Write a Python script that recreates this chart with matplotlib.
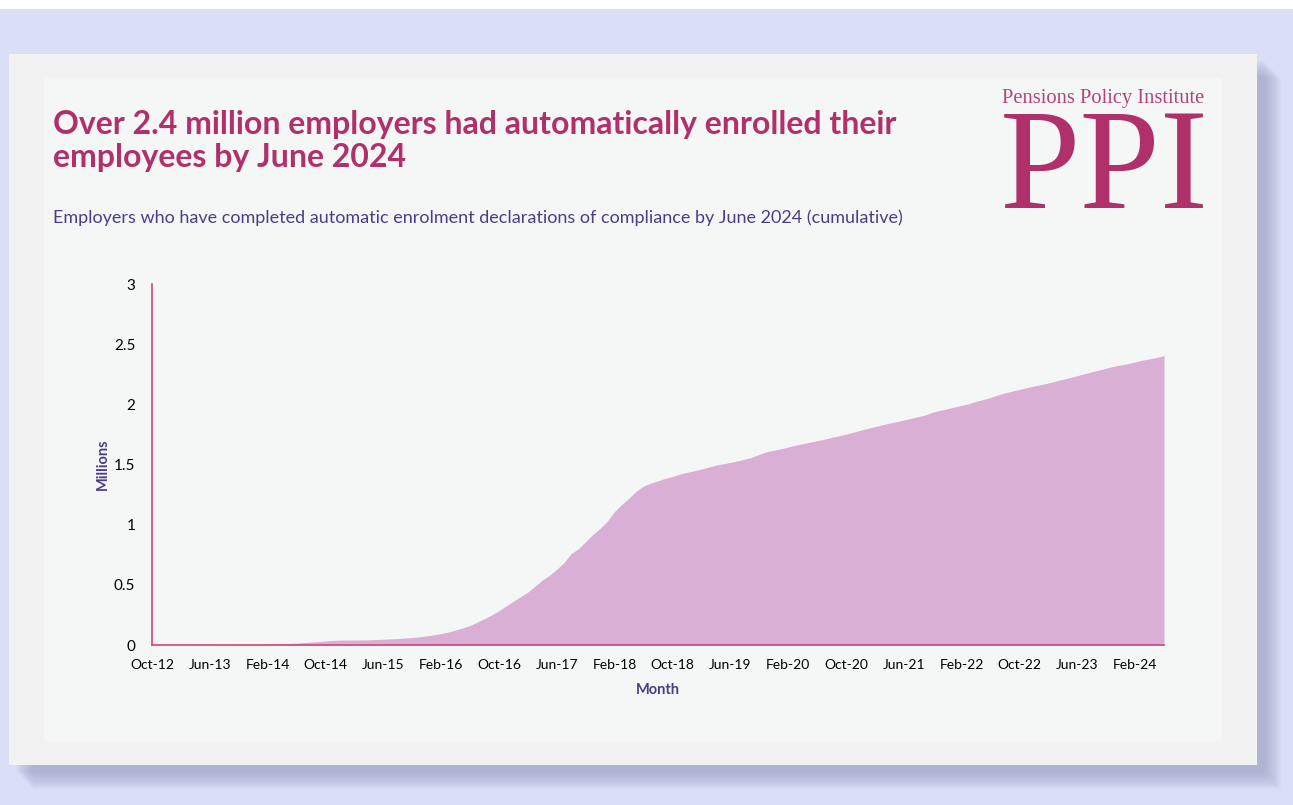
import matplotlib.pyplot as plt
from matplotlib.patches import Rectangle
import numpy as np
import pandas as pd

# cumulative employers with declarations of compliance (millions), monthly Oct-12 .. Jun-24
employers = [
    0.000, 0.000, 0.000, 0.001, 0.001, 0.001, 0.002, 0.002, 0.002, 0.003,
    0.003, 0.003, 0.004, 0.004, 0.005, 0.005, 0.006, 0.008, 0.010, 0.013,
    0.016, 0.020, 0.024, 0.028, 0.033, 0.038, 0.040, 0.041, 0.041, 0.042,
    0.043, 0.045, 0.048, 0.051, 0.054, 0.058, 0.062, 0.068, 0.076, 0.085,
    0.095, 0.108, 0.125, 0.142, 0.162, 0.190, 0.220, 0.250, 0.285, 0.325,
    0.365, 0.402, 0.440, 0.490, 0.540, 0.580, 0.630, 0.685, 0.760, 0.800,
    0.860, 0.920, 0.970, 1.030, 1.110, 1.170, 1.220, 1.280, 1.320, 1.345,
    1.365, 1.385, 1.400, 1.420, 1.435, 1.448, 1.462, 1.478, 1.495, 1.505,
    1.517, 1.530, 1.545, 1.560, 1.585, 1.605, 1.618, 1.630, 1.645, 1.660,
    1.672, 1.685, 1.698, 1.710, 1.725, 1.738, 1.752, 1.768, 1.785, 1.800,
    1.815, 1.830, 1.843, 1.856, 1.870, 1.884, 1.898, 1.912, 1.935, 1.950,
    1.963, 1.977, 1.992, 2.005, 2.025, 2.040, 2.057, 2.078, 2.095, 2.110,
    2.124, 2.138, 2.152, 2.164, 2.177, 2.193, 2.208, 2.223, 2.238, 2.254,
    2.270, 2.285, 2.300, 2.315, 2.327, 2.338, 2.352, 2.367, 2.378, 2.390,
    2.405,
]
months = pd.date_range("2012-10-01", "2024-06-01", freq="MS")
month_labels = [m.strftime("%b-%y") for m in months]
label_step = 8
y_ticks = [0, 0.5, 1, 1.5, 2, 2.5, 3]
y_tick_labels = ["0", "0.5", "1", "1.5", "2", "2.5", "3"]

TITLE = "Over 2.4 million employers had automatically enrolled their\nemployees by June 2024"
SUBTITLE = ("Employers who have completed automatic enrolment declarations of "
            "compliance by June 2024 (cumulative)")

W, H = 1293, 805
MAGENTA = "#B2306A"
PURPLE = "#4A3E8A"
FILL = "#D9AFD6"
AXIS = "#D2457C"

plt.rcParams["font.family"] = ["Lato", "DejaVu Sans"]

fig = plt.figure(figsize=(W / 100, H / 100), dpi=100)
fig.patch.set_facecolor("white")

# background layer in pixel coordinates
bg = fig.add_axes([0, 0, 1, 1])
bg.set_xlim(0, W)
bg.set_ylim(H, 0)
bg.axis("off")
bg.add_patch(Rectangle((0, 9), W, H - 9, color="#DADEF7", lw=0))
# soft shadow of the card
for k in range(18, 0, -1):
    bg.add_patch(Rectangle((9 + 6 + k, 54 + 6 + k), 1248, 711, color="#9EA3C4",
                           alpha=0.05, lw=0))
bg.add_patch(Rectangle((9, 54), 1248, 711, color="#F2F2F2", lw=0))
bg.add_patch(Rectangle((44, 78), 1178, 663, color="#F5F7F6", lw=0))

# title, subtitle
fig.text(53 / W, 1 - 141 / H, TITLE, fontsize=23, fontweight="bold",
         color=MAGENTA, va="center", ha="left", linespacing=1.2)
fig.text(53 / W, 1 - 218 / H, SUBTITLE, fontsize=13, color=PURPLE,
         va="center", ha="left")

# logo
fig.text(1103 / W, 1 - 99 / H, "Pensions Policy Institute", fontsize=14.8,
         color="#B5427A", family="Liberation Serif", ha="center", va="center")
fig.text(1104 / W, 1 - 173 / H, "PPI", fontsize=104, color="#B0306A",
         family="Liberation Serif", ha="center", va="center")

# chart
ax = fig.add_axes([152 / W, (H - 645) / H, (1164 - 152) / W, (645 - 284) / H])
ax.set_facecolor("none")
x = np.arange(len(employers))
ax.fill_between(x, employers, color=FILL, lw=0)
ax.set_xlim(0, len(employers) - 1)
ax.set_ylim(0, 3)
ax.set_xticks(x[::label_step])
ax.set_xticklabels(month_labels[::label_step], fontsize=10)
ax.set_yticks(y_ticks)
ax.set_yticklabels(y_tick_labels, fontsize=11)
ax.tick_params(length=0, colors="#000000")
ax.tick_params(axis="x", pad=10)
ax.tick_params(axis="y", pad=12)
for s in ["top", "right"]:
    ax.spines[s].set_visible(False)
for s in ["left", "bottom"]:
    ax.spines[s].set_color(AXIS)
    ax.spines[s].set_linewidth(1.2)
ax.set_xlabel("Month", fontsize=10.5, fontweight="bold", color=PURPLE, labelpad=9)
ax.set_ylabel("Millions", fontsize=10.5, fontweight="bold", color=PURPLE, labelpad=3)

fig.savefig("out.png", dpi=100)
